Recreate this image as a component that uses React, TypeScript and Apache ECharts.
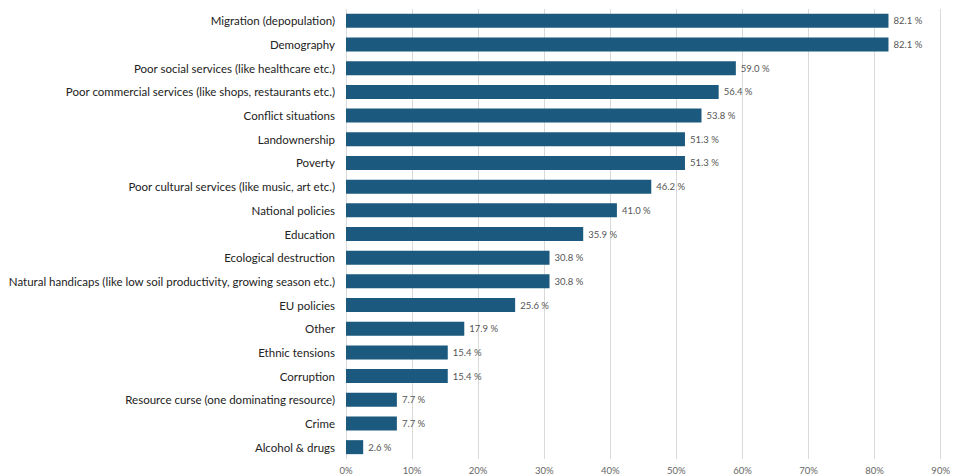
import React, { useEffect, useRef } from "react";
import * as echarts from "echarts";

const categories = [
  "Migration (depopulation)",
  "Demography",
  "Poor social services (like healthcare etc.)",
  "Poor commercial services (like shops, restaurants etc.)",
  "Conflict situations",
  "Landownership",
  "Poverty",
  "Poor cultural services (like music, art etc.)",
  "National policies",
  "Education",
  "Ecological destruction",
  "Natural handicaps (like low soil productivity, growing season etc.)",
  "EU policies",
  "Other",
  "Ethnic tensions",
  "Corruption",
  "Resource curse (one dominating resource)",
  "Crime",
  "Alcohol & drugs",
];
const values = [82.1, 82.1, 59.0, 56.4, 53.8, 51.3, 51.3, 46.2, 41.0, 35.9, 30.8, 30.8, 25.6, 17.9, 15.4, 15.4, 7.7, 7.7, 2.6];

export default function App() {
  const ref = useRef<HTMLDivElement>(null);
  useEffect(() => {
    const chart = echarts.init(ref.current!, undefined, { renderer: "svg" });
    chart.setOption({
      animation: false,
      grid: { left: 346, right: 12, top: 9, bottom: 17 },
      xAxis: {
        type: "value",
        min: 0,
        max: 90,
        interval: 10,
        axisLabel: { formatter: "{value}%", color: "#666", fontSize: 9.5, fontFamily: "Lato", margin: 6 },
        splitLine: { lineStyle: { color: "#d9d9d9", width: 1 } },
        axisLine: { show: false },
        axisTick: { show: false },
      },
      yAxis: {
        type: "category",
        inverse: true,
        data: categories,
        axisLine: { show: false },
        axisTick: { show: false },
        axisLabel: { color: "#222", fontSize: 11.5, fontFamily: "Lato", margin: 11 },
      },
      series: [
        {
          type: "bar",
          data: values,
          barWidth: 14,
          itemStyle: { color: "#1b5a7e" },
          label: {
            show: true,
            position: "right",
            distance: 5,
            color: "#555",
            fontSize: 9.5,
            fontFamily: "Lato",
            formatter: (p: any) => p.value.toFixed(1) + " %",
          },
        },
      ],
    });
    return () => chart.dispose();
  }, []);
  return (
    <div
      ref={ref}
      style={{ position: "fixed", left: 0, top: 0, width: 953, height: 476, background: "#fff" }}
    />
  );
}
